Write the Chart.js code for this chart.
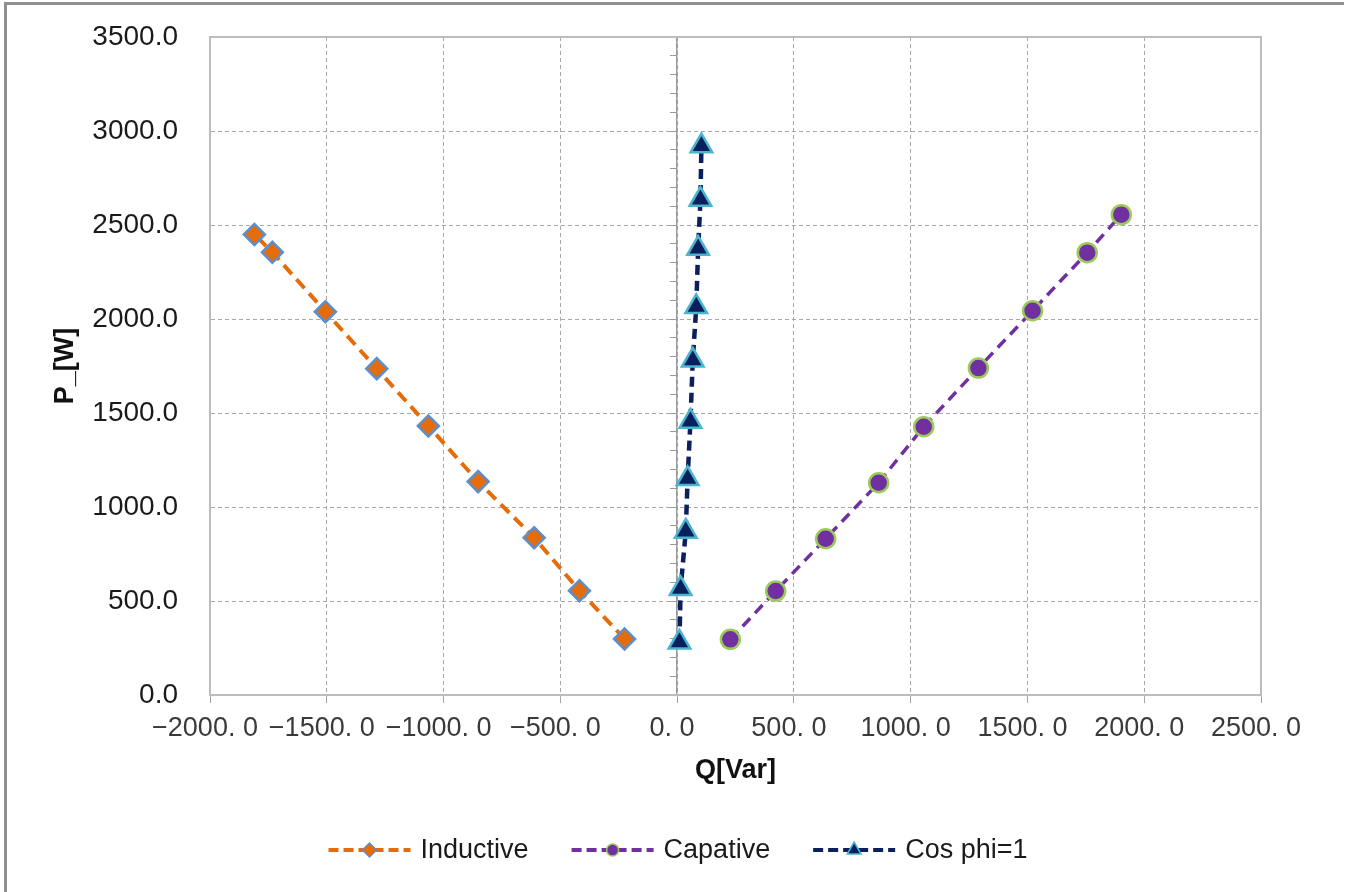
<!DOCTYPE html>
<html>
<head>
<meta charset="utf-8">
<script src="https://cdn.jsdelivr.net/npm/chart.js@4.4.1/dist/chart.umd.min.js"></script>
<style>
  html, body { margin: 0; padding: 0; background: #fff; }
  #wrap { position: relative; width: 1354px; height: 892px; overflow: hidden; }
  #frame { position: absolute; left: 4px; top: 2px; width: 1337px; height: 900px;
           border-top: 3px solid #8f8f8f; border-left: 3px solid #8f8f8f; }
  canvas { position: absolute; left: 0; top: 0; }
</style>
</head>
<body>
<div id="wrap">
  <div id="frame"></div>
  <canvas id="chart" width="1354" height="892"></canvas>
</div>
<script>
// Series (Q in Var, P in W)
const inductiveQ = [-225, -418, -612, -852, -1065, -1286, -1506, -1733, -1810];
const inductiveP = [298, 555, 837, 1135, 1431, 1736, 2039, 2355, 2450];
const capativeQ = [228, 422, 636, 863, 1056, 1290, 1522, 1756, 1902];
const capativeP = [296, 553, 831, 1129, 1427, 1739, 2044, 2353, 2555];
const cosPhiQ = [10, 15, 37, 45, 57, 67, 82, 90, 100, 104];
const cosPhiP = [280, 565, 870, 1150, 1455, 1780, 2065, 2375, 2635, 2920];

// Axis ticks
const qTicks = [-2000, -1500, -1000, -500, 0, 500, 1000, 1500, 2000, 2500];
const pTicks = [0, 500, 1000, 1500, 2000, 2500, 3000, 3500];
const pMinorStep = 100;

const toPoints = (xs, ys) => xs.map((x, i) => ({ x: x, y: ys[i] }));

// Q labels look like "-2000. 0" in the original
function fmtQ(v) {
  const s = Math.abs(v).toFixed(1).replace('.', '. ');
  return (v < 0 ? '\u2212' : '') + s;
}

const gridColor = '#a8a8a8';
const tickFont = { family: '"Liberation Sans", Arial, sans-serif', size: 28 };
const qFont = { family: '"Liberation Sans Narrow", "Liberation Sans", Arial, sans-serif', size: 27 };
const titleFont = { family: '"Liberation Sans", Arial, sans-serif', size: 27, weight: 'bold' };

// solid frame around the plot area
const plotFrame = {
  id: 'plotFrame',
  beforeDatasetsDraw(chart) {
    const { ctx, chartArea: a } = chart;
    ctx.save();
    ctx.strokeStyle = '#bcbcbc';
    ctx.lineWidth = 2;
    ctx.strokeRect(a.left, a.top, a.right - a.left, a.bottom - a.top);
    ctx.restore();
  }
};

// legend with dashed line + marker, like the spreadsheet one
const lineLegend = {
  id: 'lineLegend',
  afterDraw(chart) {
    const ctx = chart.ctx;
    const y = 850;
    const lineLen = 82, textGap = 10, itemGap = 43;
    ctx.save();
    ctx.font = '27px "Liberation Sans", Arial, sans-serif';
    const items = chart.data.datasets.map(ds => ({ ds: ds, w: lineLen + textGap + ctx.measureText(ds.label).width }));
    const total = items.reduce((s, it) => s + it.w, 0) + itemGap * (items.length - 1);
    let x = 678 - total / 2;
    items.forEach(({ ds, w }) => {
      ctx.setLineDash([10, 5]);
      ctx.lineWidth = 4;
      ctx.strokeStyle = ds.borderColor;
      ctx.beginPath();
      ctx.moveTo(x, y);
      ctx.lineTo(x + lineLen, y);
      ctx.stroke();
      ctx.setLineDash([]);
      ctx.fillStyle = ds.pointBackgroundColor;
      ctx.strokeStyle = ds.pointBorderColor;
      ctx.lineWidth = 1.5;
      Chart.helpers.drawPoint(ctx, { pointStyle: ds.pointStyle, radius: ds.legendRadius, rotation: 0, borderWidth: 1.5 }, x + lineLen / 2, y);
      ctx.fillStyle = '#1a1a1a';
      ctx.textAlign = 'left';
      ctx.textBaseline = 'middle';
      ctx.fillText(ds.label, x + lineLen + textGap, y + 1);
      x += w + itemGap;
    });
    ctx.restore();
  }
};

new Chart(document.getElementById('chart'), {
  type: 'scatter',
  data: {
    datasets: [
      {
        label: 'Inductive',
        data: toPoints(inductiveQ, inductiveP),
        showLine: true,
        borderColor: '#E46C0A',
        borderWidth: 4,
        borderDash: [12, 7],
        pointStyle: 'rectRot',
        pointRadius: 10.5,
        pointBackgroundColor: '#E46C0A',
        pointBorderColor: '#5B8FCF',
        pointBorderWidth: 2.5,
        legendRadius: 7,
        yAxisID: 'y'
      },
      {
        label: 'Capative',
        data: toPoints(capativeQ, capativeP),
        showLine: true,
        borderColor: '#7030A0',
        borderWidth: 3.5,
        borderDash: [11, 7],
        pointStyle: 'circle',
        pointRadius: 9.5,
        pointBackgroundColor: '#7030A0',
        pointBorderColor: '#9BCB5A',
        pointBorderWidth: 2.5,
        legendRadius: 6,
        yAxisID: 'y'
      },
      {
        label: 'Cos phi=1',
        data: toPoints(cosPhiQ, cosPhiP),
        showLine: true,
        borderColor: '#0B1F5C',
        borderWidth: 4.5,
        borderDash: [10, 6],
        pointStyle: 'triangle',
        pointRadius: 12.5,
        pointBackgroundColor: '#0B1F5C',
        pointBorderColor: '#4BB4CF',
        pointBorderWidth: 2.5,
        legendRadius: 8,
        yAxisID: 'y'
      }
    ]
  },
  options: {
    responsive: false,
    animation: false,
    layout: { padding: { left: 0, top: 37, right: 93, bottom: 0 } },
    plugins: {
      legend: { display: false },
      tooltip: { enabled: false }
    },
    scales: {
      x: {
        type: 'linear',
        position: 'bottom',
        min: -2000,
        max: 2500,
        afterBuildTicks: s => { s.ticks = qTicks.map(v => ({ value: v })); },
        afterFit: s => { s.height = 197; },
        grid: { color: gridColor, lineWidth: 1, drawTicks: true, tickLength: 8, tickColor: gridColor, tickBorderDash: [] },
        border: { display: true, color: '#bcbcbc', width: 2, dash: [4, 3] },
        ticks: { font: qFont, color: '#3a3a3a', padding: 9, labelOffset: -5, maxRotation: 0, autoSkip: false, callback: v => fmtQ(v) },
        title: { display: true, text: 'Q[Var]', font: titleFont, color: '#111', padding: { top: 0, bottom: 105 } }
      },
      y: {
        type: 'linear',
        position: 'left',
        min: 0,
        max: 3500,
        afterBuildTicks: s => { s.ticks = pTicks.map(v => ({ value: v })); },
        afterFit: s => { s.width = 210; s.paddingTop = 0; s.paddingBottom = 0; },
        grid: { color: gridColor, lineWidth: 1, drawTicks: false },
        border: { display: true, color: '#bcbcbc', width: 2, dash: [4, 3] },
        ticks: { font: tickFont, color: '#1a1a1a', padding: 32, autoSkip: false, callback: v => v.toFixed(1) },
        title: { display: true, text: 'P_[W]', font: titleFont, color: '#111', padding: { top: 49, bottom: 0 } }
      },
      // the vertical axis line crossing at Q = 0, with minor ticks
      yZero: {
        type: 'linear',
        axis: 'y',
        position: { x: 0 },
        min: 0,
        max: 3500,
        afterBuildTicks: s => {
          const t = [];
          for (let v = 0; v <= 3500; v += pMinorStep) t.push({ value: v });
          s.ticks = t;
        },
        grid: { drawOnChartArea: false, drawTicks: true, tickLength: 6, tickColor: '#9a9a9a', tickWidth: 1 },
        border: { display: true, color: '#9a9a9a', width: 1.5 },
        ticks: { display: false }
      }
    }
  },
  plugins: [plotFrame, lineLegend]
});
</script>
</body>
</html>
